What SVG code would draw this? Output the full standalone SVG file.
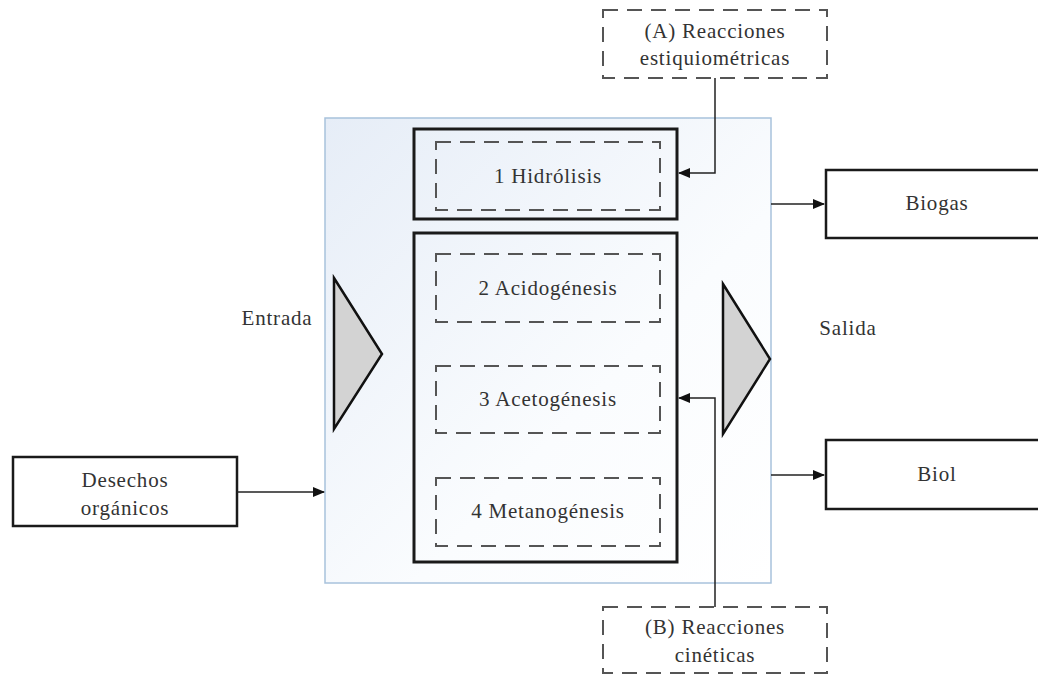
<svg xmlns="http://www.w3.org/2000/svg" width="1038" height="676" viewBox="0 0 1038 676">
<defs>
<linearGradient id="bg" x1="0" y1="0" x2="1" y2="1">
<stop offset="0" stop-color="#e6edf7"/>
<stop offset="0.6" stop-color="#fafcfe"/>
<stop offset="1" stop-color="#ffffff"/>
</linearGradient>
<marker id="arr" markerWidth="12" markerHeight="10" refX="11" refY="5" orient="auto" markerUnits="userSpaceOnUse">
<path d="M0,0 L12,5 L0,10 Z" fill="#111"/>
</marker>
<style>
.t{font-family:"Liberation Serif","Times New Roman",serif;font-size:21px;fill:#333;text-anchor:middle;letter-spacing:0.8px}
.solid{fill:#fff;stroke:#1a1a1a;stroke-width:2.5}
.thick{fill:none;stroke:#1a1a1a;stroke-width:3}
.dash{fill:none;stroke:#555;stroke-width:2;stroke-dasharray:15 9}
.tri{fill:#d3d3d3;stroke:#111;stroke-width:2.5;stroke-linejoin:miter}
.conn{fill:none;stroke:#222;stroke-width:1.5}
</style>
</defs>
<rect width="1038" height="676" fill="#fff"/>
<g id="container">
<rect x="325" y="118" width="446" height="465" fill="url(#bg)" stroke="#a8c2dc" stroke-width="1.5"/>
</g>
<g id="hidrolisis-box">
<rect x="414" y="129" width="263" height="90" class="thick" fill="none"/>
<rect x="436" y="142" width="224" height="68" class="dash"/>
<text class="t" x="548" y="183">1 Hidrólisis</text>
</g>
<g id="stages-box">
<rect x="414" y="233" width="263" height="329" class="thick"/>
</g>
<g id="acidogenesis">
<rect x="436" y="254" width="224" height="68" class="dash"/>
<text class="t" x="548" y="295">2 Acidogénesis</text>
</g>
<g id="acetogenesis">
<rect x="436" y="366" width="224" height="67" class="dash"/>
<text class="t" x="548" y="406">3 Acetogénesis</text>
</g>
<g id="metanogenesis">
<rect x="436" y="478" width="224" height="68" class="dash"/>
<text class="t" x="548" y="518">4 Metanogénesis</text>
</g>
<g id="entrada">
<polygon class="tri" points="334,278 382,354 334,429"/>
<text class="t" x="277" y="325">Entrada</text>
</g>
<g id="salida">
<polygon class="tri" points="723,284 770,359 723,434"/>
<text class="t" x="848" y="335">Salida</text>
</g>
<g id="reacciones-a">
<rect x="603" y="10" width="224" height="68" class="dash"/>
<text class="t" x="715" y="38">(A) Reacciones</text>
<text class="t" x="715" y="65">estiquiométricas</text>
</g>
<g id="reacciones-b">
<rect x="603" y="607" width="224" height="66" class="dash"/>
<text class="t" x="715" y="634">(B) Reacciones</text>
<text class="t" x="715" y="662">cinéticas</text>
</g>
<g id="desechos">
<rect x="13" y="457" width="224" height="69" class="solid"/>
<text class="t" x="125" y="487">Desechos</text>
<text class="t" x="125" y="515">orgánicos</text>
</g>
<g id="biogas">
<rect x="826" y="170" width="230" height="68" class="solid"/>
<text class="t" x="937" y="210">Biogas</text>
</g>
<g id="biol">
<rect x="826" y="440" width="230" height="69" class="solid"/>
<text class="t" x="937" y="481">Biol</text>
</g>
<g id="connectors">
<path class="conn" d="M715,78 V173 H679" marker-end="url(#arr)"/>
<path class="conn" d="M715,607 V398 H679" marker-end="url(#arr)"/>
<path class="conn" d="M237,492 H324" marker-end="url(#arr)"/>
<path class="conn" d="M771,204 H824" marker-end="url(#arr)"/>
<path class="conn" d="M771,475 H824" marker-end="url(#arr)"/>
</g>
</svg>
